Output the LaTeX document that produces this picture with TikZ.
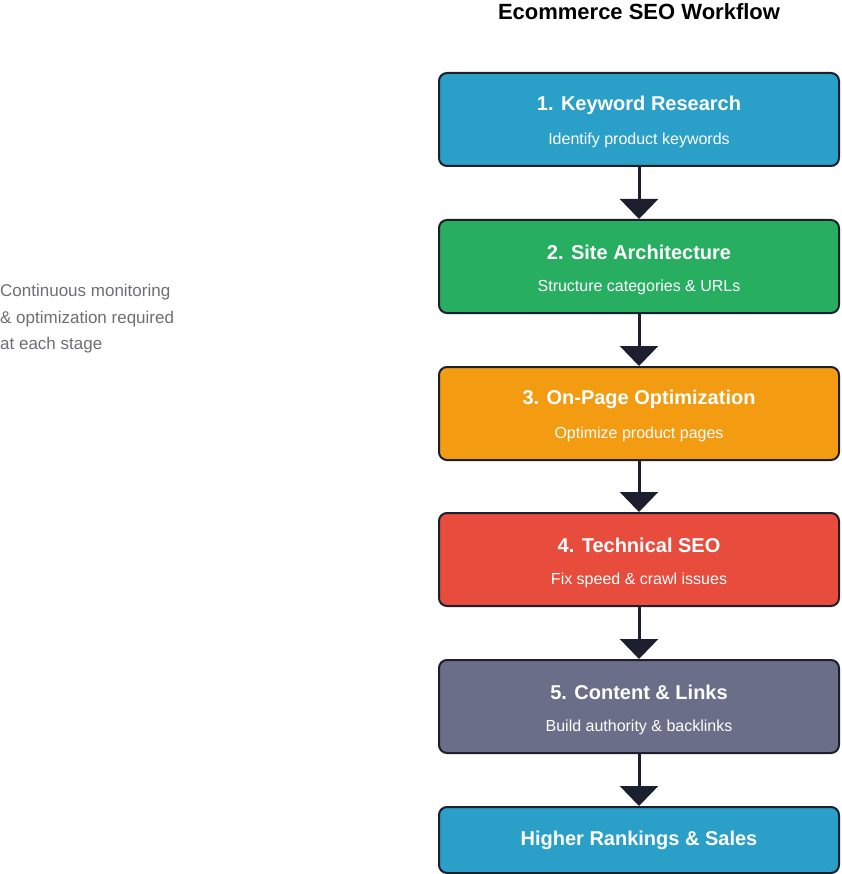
\documentclass[tikz,border=0pt]{standalone}
\usepackage{fontspec}
\setmainfont{Liberation Sans}
\usetikzlibrary{arrows.meta}
\definecolor{cblue}{HTML}{2A9FC7}
\definecolor{cgreen}{HTML}{27AE60}
\definecolor{corange}{HTML}{F39C12}
\definecolor{cred}{HTML}{E74C3C}
\definecolor{cgray}{HTML}{6B6E88}
\definecolor{cline}{HTML}{1C1F2E}
\definecolor{ctext}{HTML}{6E6E73}
\begin{document}
\begin{tikzpicture}[x=1pt,y=-1pt,
 box/.style={draw=cline,line width=2pt,rounded corners=8pt,minimum width=400pt,anchor=north,inner sep=0pt},
 ttl/.style={text=white,font=\bfseries\fontsize{20}{24}\selectfont},
 sub/.style={text=white,font=\fontsize{16}{19}\selectfont},
 conn/.style={draw=cline,line width=3pt,-{Triangle[width=38pt,length=20pt]}}]
\useasboundingbox (0,0) rectangle (841,874);
\node[font=\bfseries\fontsize{22}{26}\selectfont,text=black] (title) at (639,12) {Ecommerce SEO Workflow};
\node[box,fill=cblue,minimum height=93pt] (b1) at (639,72) {};
\node[box,fill=cgreen,minimum height=93pt] (b2) at (639,219) {};
\node[box,fill=corange,minimum height=93pt] (b3) at (639,366) {};
\node[box,fill=cred,minimum height=93pt] (b4) at (639,512) {};
\node[box,fill=cgray,minimum height=93pt] (b5) at (639,659) {};
\node[box,fill=cblue,minimum height=66pt] (b6) at (639,806) {};
\node[ttl] (t1) at (639,105) {1. Keyword Research};
\node[sub] (s1) at (639,140) {Identify product keywords};
\node[ttl] (t2) at (639,252) {2. Site Architecture};
\node[sub] (s2) at (639,287) {Structure categories \& URLs};
\node[ttl] (t3) at (639,399) {3. On-Page Optimization};
\node[sub] (s3) at (639,434) {Optimize product pages};
\node[ttl] (t4) at (639,545) {4. Technical SEO};
\node[sub] (s4) at (639,580) {Fix speed \& crawl issues};
\node[ttl] (t5) at (639,692) {5. Content \& Links};
\node[sub] (s5) at (639,727) {Build authority \& backlinks};
\node[ttl] (t6) at (639,840) {Higher Rankings \& Sales};
\draw[conn] (b1.south) -- (b2.north);
\draw[conn] (b2.south) -- (b3.north);
\draw[conn] (b3.south) -- (b4.north);
\draw[conn] (b4.south) -- (b5.north);
\draw[conn] (b5.south) -- (b6.north);
\node[anchor=north west,align=left,text=ctext,inner sep=0pt,font=\fontsize{17}{26.5}\selectfont] (note) at (0,284) {Continuous monitoring\\\& optimization required\\at each stage};
\end{tikzpicture}
\end{document}
